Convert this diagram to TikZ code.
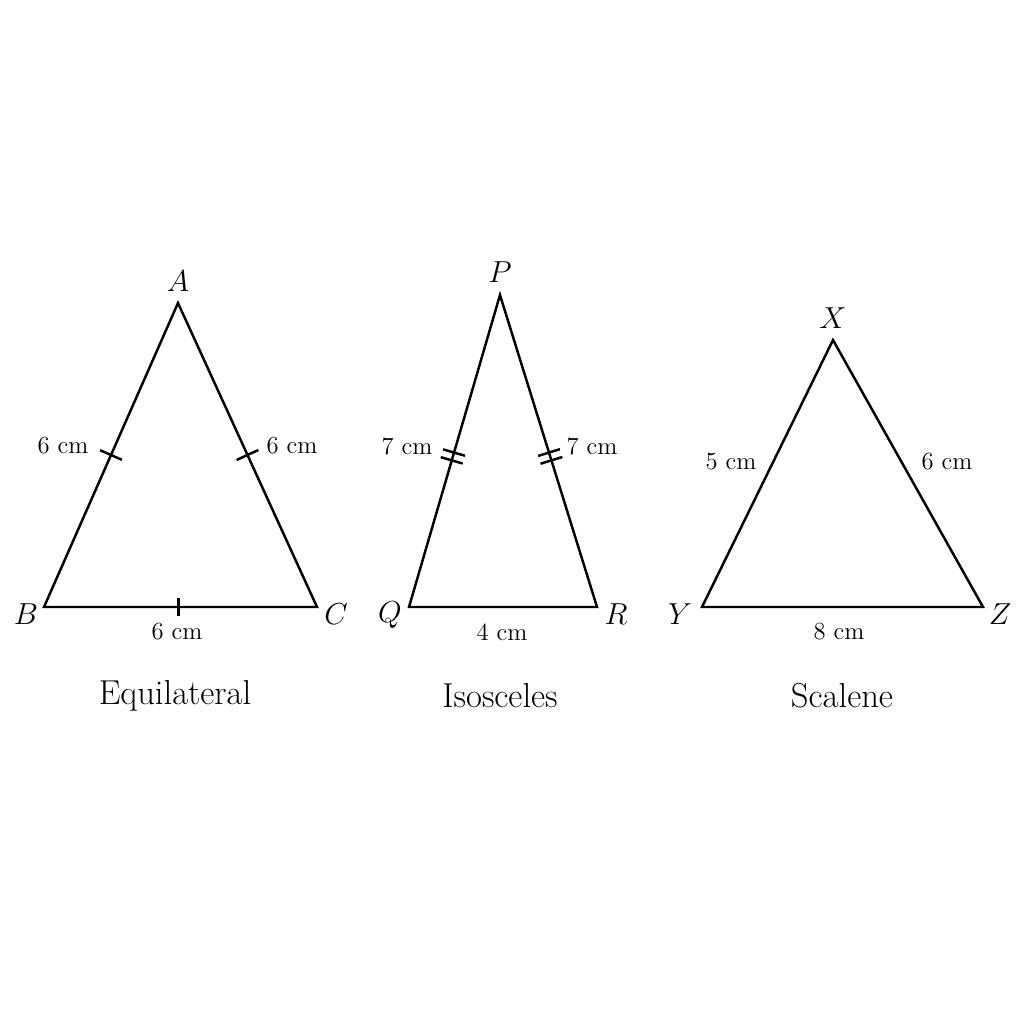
\documentclass[tikz,border=0pt]{standalone}
\usetikzlibrary{calc,positioning}
\begin{document}
\begin{tikzpicture}[x=0.02cm,y=-0.02cm,line width=1.4pt,
  vtx/.style={font=\fontsize{17}{19}\selectfont},
  side/.style={font=\fontsize{14}{16}\selectfont},
  kind/.style={font=\fontsize{19.7}{23}\selectfont}]
\useasboundingbox (0,0) rectangle (1024,1024);
% equilateral
\coordinate (A) at (178,303) node (nA) at (178,281) [vtx] {$A$};
\coordinate (B) at (44,607)  node (nB) at (26,614)  [vtx] {$B$};
\coordinate (C) at (317,607) node (nC) at (336,614) [vtx] {$C$};
\draw (A)--(B)--(C)--cycle;
\draw ($(A)!0.5!(B)!6.8pt!90:(B)$) -- ($(A)!0.5!(B)!6.8pt!-90:(B)$);
\draw ($(A)!0.5!(C)!6.8pt!90:(C)$) -- ($(A)!0.5!(C)!6.8pt!-90:(C)$);
\draw ($(B)!0.492!(C)!5pt!90:(C)$) -- ($(B)!0.492!(C)!5pt!-90:(C)$);
\node (sAB) at (63,446)  [side] {6 cm};
\node (sAC) at (292,446) [side] {6 cm};
\node (sBC) at (177,632) [side] {6 cm};
\node (kE)  at (175,696) [kind] {Equilateral};
% isosceles
\coordinate (P) at (500,295) node (nP) at (500,272) [vtx] {$P$};
\coordinate (Q) at (409,607) node (nQ) at (390,615) [vtx] {$Q$};
\coordinate (R) at (597,607) node (nR) at (616,614) [vtx] {$R$};
\draw (P)--(Q)--(R)--cycle;
\foreach \f in {0.505,0.53}{
  \draw ($(P)!\f!(Q)!6.5pt!90:(Q)$) -- ($(P)!\f!(Q)!6.5pt!-90:(Q)$);
  \draw ($(P)!\f!(R)!6.5pt!90:(R)$) -- ($(P)!\f!(R)!6.5pt!-90:(R)$);
}
\node (sPQ) at (407,446) [side] {7 cm};
\node (sPR) at (592,446) [side] {7 cm};
\node (sQR) at (502,632) [side] {4 cm};
\node (kI)  at (500,696) [kind] {Isosceles};
% scalene
\coordinate (X) at (833,340) node (nX) at (833,318) [vtx] {$X$};
\coordinate (Y) at (702,607) node (nY) at (680,614) [vtx] {$Y$};
\coordinate (Z) at (983,607) node (nZ) at (1000,614) [vtx] {$Z$};
\draw (X)--(Y)--(Z)--cycle;
\node (sXY) at (731,462) [side] {5 cm};
\node (sXZ) at (947,462) [side] {6 cm};
\node (sYZ) at (839,632) [side] {8 cm};
\node (kS)  at (842,696) [kind] {Scalene};
\end{tikzpicture}
\end{document}
